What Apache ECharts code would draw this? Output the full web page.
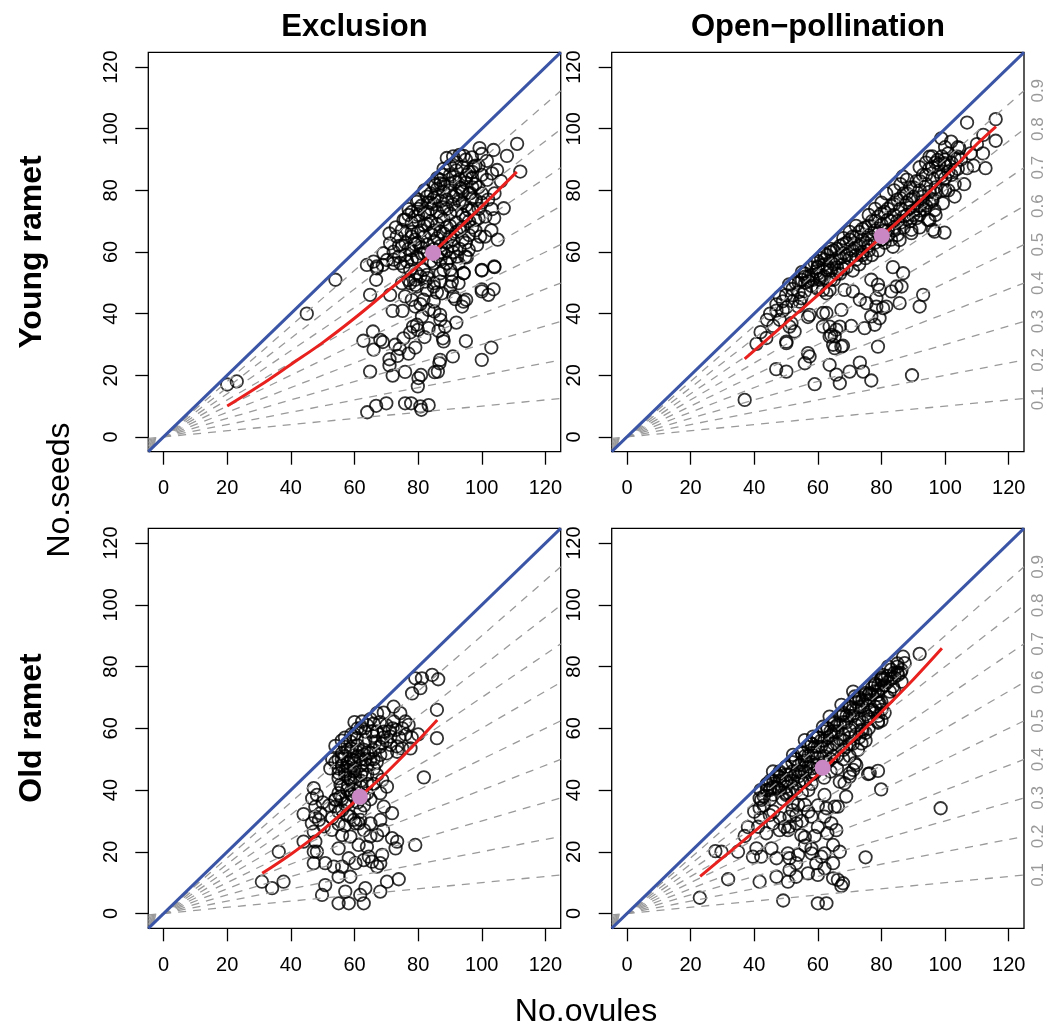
<!DOCTYPE html>
<html><head><meta charset="utf-8">
<script src="https://cdn.jsdelivr.net/npm/echarts@6/dist/echarts.min.js"></script>
<style>html,body{margin:0;padding:0;background:#fff}#c{width:1057px;height:1030px}</style>
</head><body><div id="c"></div>
<script>
const ticks = [0, 20, 40, 60, 80, 100, 120];
const ratios = [0.1, 0.2, 0.3, 0.4, 0.5, 0.6, 0.7, 0.8, 0.9];
const axisMin = -4.8, axisMax = 124.8;
const colTitles = ['Exclusion', 'Open\u2212pollination'];
const rowTitles = ['Young ramet', 'Old ramet'];
const xTitle = 'No.ovules';
const yTitle = 'No.seeds';

const exclYoung = [
[20,17],[23,18],[45,40],[54,51],
[64,8],[66.8,10.1],[70,10.9],[75.9,10.9],[77.8,10.9],[80.7,9.9],[81,8.8],[83.3,10.3],
[64.9,21.2],[72,19.9],[75.9,21.1],[80.1,19.1],[80.9,20.1],[79.9,16.4],[85.2,21],[86.2,21.2],
[71,23.2],[71,25.2],[73.5,26.3],[77,27],[74.2,28.6],[72.8,29.9],[79.1,29],[86.9,25],[86.7,23.9],[90.9,26.1],[100,25],[103,29],[95,31.1],
[62.8,31.2],[65.8,34.2],[68.1,31.5],[68.9,30.8],[66,28.3],[75.4,32],[77.5,33.9],[79.9,34.7],[82,32.4],[83.3,35.3],[86.4,34.4],[87.8,32],[88,31],[88.5,35.8],[87,38],[92,37.1],[79.6,36.4],[78.4,35.8],
[81.2,39.1],[83.3,41.2],[85.1,40.7],[86.9,39.6],[72,40.9],[75.1,40.9],[79.1,42.3],[80.7,43.1],[78,44.5],[81.7,44.5],[75.9,45.6],[84.9,43.9],[85.9,46.9],[87.5,46.6],[90.1,48.8],[91.1,45.6],[91.7,44.7],[94.3,43.9],[93.8,42.3],[95.1,44.5],[100,47.2],[102.1,46.1],
[64.9,46.1],[66.8,51],[71.2,46.1],[74.9,49.9],[77.5,49.9],[79.6,48.8],[82.8,47.7],[80.7,52.1],[83.1,51.5],[84.9,49.9],[87,53.1],[90.1,54.2],[94.3,53.1],[100,54],[104,55.1],[90.6,50.4],[92.7,49.9],[63.9,55.8],[67,55.3],[68.9,55.8],
[69.1,59.6],[72.3,57.5],[74.4,56.4],[76.5,56.9],[79.6,58.5],[84.9,56.4],[87,57.5],[89,56.4],[92.2,58.5],[95.3,58.3],[77.5,54.2],[81.7,54.2],[82.8,52.6],[79.1,51],[88,54.2],
[111.1,95.1],[112.1,86.1],[107.9,91.2],[103.7,93.1],[99.3,93.7],[100,91.8],[94.3,91.2],[96.9,90.7],[101.6,89.6],[104.8,86.6],[101.6,83.4],[99,81],[103.2,85.5],[95.3,85],[97.4,87.7],[91.7,82.8],[90.1,82.3],[87,82.3],[85.4,81.7],[93.8,80.7],[96.4,79.1],[98,76.9],[106.9,74.2],[103.2,73.9],[103.9,71],[101.1,71.5],[98,70.4],[99.5,65],[98.5,62.3],[95.9,60.7],[94.8,58.5],[92.7,56.3],[100,54.2],[103.9,55.3],[100,47.9],[103.7,47.9],[94.3,53.1],[90.6,52.6],
[77,73.9],[79.6,76.3],[82.8,78],[84.9,82.3],[87,83.4],[75.4,70.4],[74.9,67.2],[73.3,65],[71.2,62.8],[72.3,60.1],[70.2,57.4],[66,56.9],[67,54.7],[72.3,56.3],[75.4,55.3],[79.6,53.1],[77,50.9],[82.2,50.4],[84.9,48.8],[87,50.4],[79.1,49.3],
[88,87],[90,88],[92,86.5],[94,87.5],[96,86],[98,88],[91,91],[93,91.5],[95,90],[89,90.5],
[86,84],[88,85],[91,84.5],[93,83.5],[95,82.5],[97,84],[100,85],
[82,80],[84,79],[86,80.5],[88,79.5],[90,80],[92,78.5],[94,79.5],[97,81],[100,79],
[80,77],[83,76],[85,77.5],[87,76.5],[89,77],[91,75.5],[93,76.5],[95,75],[97,77.5],[100,76],
[78,73],[80,74],[82,72.5],[84,74],[86,73],[88,74.5],[90,72.5],[92,73.5],[94,72],[96,73.5],[99,74],
[76,70.5],[78,69.5],[80,70],[82,68.5],[84,70],[86,69],[88,70.5],[90,68.5],[92,69.5],[94,68],[96,70],[98,67],
[76,66],[78,65],[80,66.5],[82,65],[84,66],[86,64.5],[88,66],[90,65],[92,66.5],[94,64],[96,65.5],
[75,62],[77,61],[79,62.5],[81,61.5],[83,62.5],[85,61],[87,62],[89,60.5],[91,62],[93,61],
[74,58.5],[76,59],[78,57.5],[80,58],[82,59.5],[84,57],[86,58.5],[88,59.5],[90,58],
[73,68],[71,66],[74,62],[76,63],[80,63],[102,77],[104,79],[106,83],[103,67],[101,65],[105,64],
[77,72],[79,71.5],[81,75],[83,73],[85,75.5],[87,71.5],[89,74],[91,78],[93,81],[95,84],[97,86],[99,88],[81,67],[83,69],[85,67],[87,66.5],[89,68],[91,64],[93,67],[95,71],[97,74],
[79,64],[81,59.5],[83,60],[85,63.5],[87,60],[89,63],[91,60],[78,60.5],[88,82],[90,85],[92,89],[86,78],[84,76],[80,72],[78,66.5],[94,76],[96,79],[98,82],[99,71],[97,68],[95,63]
];

const openYoung = [
[37,12],[40.7,30.2],[43.8,32.1],[48,38],[50.1,30.9],[50.1,30.4],[52.7,34.2],[51.1,35.8],[51.7,36.9],[54.3,43.9],[54.8,45],[55.9,47.2],[53.8,42.3],[56.9,38.9],[57.4,39.6],
[46.9,22],[50.1,21.2],[56.9,27.2],[57.4,26.1],[55.9,23.9],[59,17.1],[63.7,23.4],[65.8,20.2],[66.9,17.4],[70,21.2],[73.2,24.1],[74.2,21.2],[76.8,18.3],
[64.8,29.9],[65.3,28.8],[67.4,29.3],[67.9,29.6],[63.7,32.6],[64.2,33.1],[65.3,32.6],[63.7,35.8],[65.8,34.8],[66.9,35.8],[61.6,35.8],[61.6,40.2],[62.7,40.2],[67.4,41.2],[70.5,36],
[74.7,35.3],[77.9,36.4],[78.9,29.3],[76.8,39.1],[79.4,38.5],[80.5,41.8],[81.5,42.3],[78.4,42.3],[73.2,44.5],[75.3,43.4],[78.4,45],[79.4,47.7],[78.9,49.4],[83.1,47.2],[85.7,43.4],[84.7,48.8],[86.3,48.8],[92,42.3],[93.1,46.1],[83.6,55.1],[86.8,53.1],
[89.4,66.1],[96.2,67.2],[94.6,70.4],[93.6,73.7],[92,72.1],[76.8,51],[68.4,47.7],[71,47.2],[62.7,46.6],[63.7,47.7],[61.6,47.7],[58.5,51],[60.6,51],[59.5,53.7],[62.7,54.2],[60,55.3],[89.6,20],
[106.9,102],[115.9,103.1],[115.9,96.1],[111.9,92],[112.7,87.2],[106.9,87.2],[104,94],[98.8,96.9],[101.9,95.8],[104.5,93.7],[104,90.9],[99.8,88.8],[95.1,90.9],[97.7,89.9],[98.8,84.5],[99.3,75.8],[96.7,73.6],[95.1,70.4],[96.7,66.6],[99.8,66.3],[89.4,67.2],[85.7,63.9],[83.6,61.7],[88.8,76.9],[86.7,84.5],[81.5,79],
[50,46],[52,48],[53,50],[51,49.5],[54,47],[55,51],[56,50],[55,53.5],
[57,52],[58,55],[59,56.5],[60,53],[61,58],[62,56],[58,49],[60,48.5],[62,52],
[63,59],[64,57],[65,60.5],[66,58],[67,62],[68,59.5],[64,54],[66,55],[68,56],[65,51],[67,53],
[69,63],[70,61],[71,65],[72,62.5],[73,66.5],[74,64],[70,58],[72,59],[74,60],[69,55],[71,54],[73,56],
[75,68],[76,65.5],[77,70],[78,67],[79,71.5],[80,69],[76,62],[78,63],[80,64],[75,58],[77,59],[79,60.5],
[81,73],[82,70.5],[83,75],[84,72],[85,77],[86,74],[82,67],[84,68],[86,69.5],[81,63],[83,64],[85,65.5],
[87,79],[88,76],[89,81],[90,78],[91,83],[92,80],[88,72],[90,73.5],[92,75],[87,68],[89,70],[91,71],
[93,85],[94,82],[95,87],[96,84],[97,89],[98,86],[93,78],[95,79.5],[97,81],[94,75],[96,76.5],
[99,91],[100,88],[101,92],[102,89],[103,90.5],[100,84],[102,85],[104,87],[101,80],[103,82],
[45,40],[47,43],[48,45.5],[44,38],[42,34],[46,36],[49,41],[47,41],[49,44],[52,44],[50,42],
[106,82],[109,88],[103,78],[97,72],[92,68],[108,92],[110,95],[112,98],
[52,46],[54,50],[56,52],[58,52.5],[60,55],[62,57.5],[64,60],[66,61],[68,62.5],[70,64],[72,65],[74,67.5],[76,68.5],[78,70],[80,72.5],[82,74],[84,75.5],[86,77.5],[88,79],[90,81],[92,83],[94,85],[96,87.5],[98,88.5],[100,90],
[57,50.5],[61,52.5],[65,56],[69,59],[73,62],[77,64],[81,67],[85,70],[89,74.5],[93,76.5],[97,79],[63,55],[67,58],[71,60.5],[75,63],[79,66],[83,70],[87,71.5],[91,74],[95,76],[99,80],[101,86],[103,86.5],[105,90],
[56,53],[60,57],[64,61],[68,64.5],[72,68.5],[76,72],[80,76],[84,80],[88,83.5],[92,87.5],[96,91],[100,94],[62,59.5],[70,66.5],[78,74],[86,82],[94,89],
[60,48],[64,51],[68,54.5],[72,57.5],[76,60.5],[80,64],[84,67],[88,70.5],[92,73.5],[96,77],[100,80],[66,53],[74,59],[82,65.5],[90,72]
];

const exclOld = [
[79.1,76.2],[81.2,76.2],[84.4,77.3],[86.3,75.9],[80.7,73],[78.1,71.3],[85.9,66],[85.9,56.8],[81.8,44.1],[72.3,67],[69.2,65.1],[67.1,64.9],[74.4,64.9],[72.3,62.2],[76,62.2],[77,61.1],
[62.4,62.2],[63.4,58.9],[65.5,58.9],[69.2,58.9],[71.3,57.3],[58.7,55.7],[60.8,56.8],[63.4,56.2],[66.6,55.7],[68.7,55.1],[71.3,54.6],[73.4,54.1],[75,53.5],[77.6,53.5],[54,54.3],
[56.1,51.9],[58.7,52.4],[60.8,52.4],[63.4,50],[68.1,51.4],[70.2,51.9],[73.4,52.4],[52.4,47],[55,47],[57.7,47.6],[59.8,46],[62.4,46],[66.1,47],[67.1,44.9],[68.7,43.3],[70.2,41.1],[68.1,39],
[55,43.8],[57.1,44.9],[58.7,43.3],[55.6,41.7],[57.7,40],[55,39],[47.2,40.6],[48.2,38.4],[47.7,34.6],[49.3,32.5],[44,32.2],[46.6,29.2],[47.2,26.5],[50.3,28.2],[47.7,23.3],[44,23.3],[47.2,20],[48.2,20],[52.9,27.1],[36.2,20],
[54,34.6],[56.1,33.5],[58.7,31.4],[59.8,30.3],[61.8,33],[61.3,29.2],[65,29.2],[68.1,30.3],[71.8,32.5],[69.2,34.6],[56.1,25.4],[58.7,24.9],[61.3,22.2],[63.9,21.6],[67.1,25.4],[71.8,24.4],[73.4,23.3],[72.9,21.1],[79.1,22.2],[55,21.1],
[47.2,16.3],[50.8,16.3],[53.5,15.2],[56.1,15.2],[58.2,17.9],[60.3,16.3],[62.9,17.3],[64.5,18.4],[65.5,16.8],[67.1,15.2],[68.7,19],[68.1,16.3],[55,11.9],[58.7,11.9],[70.2,10.3],[73.9,11.1],
[30.9,10.3],[34.1,8.2],[37.7,10.3],[50.8,9.2],[49.8,6],[57.1,7.1],[63.4,8.2],[61.8,6],[68.1,7.1],[55,3.3],[58.2,3.3],[62.9,3.3],
[56,50],[58,49],[60,49.5],[62,48],[64,52],[66,53],[57,54],[59,53.5],[61,54.5],[63,53],[65,50],[67,49],[55,45.5],[57,46],[60,44],[62,43],[64,45],[66,42],[58,41.5],[60,40],[62,41],[64,39],
[56,37],[58,36],[60,38],[65,37],[63,35],[57,35.5],[54,37],[53,50],[54,49],[56,56],[59,58],[61,60],[64,61],[66,61.5],[68,62],[70,61],[70,56],[72,60],[74,57],[76,58],[78,57],[80,58],[66,57.5],[68,54],
[53,31],[55,29],[57,28.5],[63,27],[65,25],[69,27],[52,35],[50,36],[46.7,37.3],[47.7,31.4],[48.8,30.3],[54,36.8],[55.6,37.9],[55,33],[57.7,31.9],[60.3,29.2],[61.8,30.3],
[57,51],[59,50],[61,51],[63,51.5],[65,52],[56,48],[58,46.5],[60,47],[62,50],[64,48],[66,50],[58,44],[60,42.5],[62,45],[64,42],[56,41],[59,38.5],[61,36],[63,38],[60,58],[62,60],[65,63],[67,59],[69,57],[71,59],[73,59.5],[75,60],[57,57],[58,53],[55,50],[60,62]
];

const openOld = [
[22.9,5.1],[31.8,11.1],[29.7,20],[27.8,20.2],[34.9,20],[37,25.1],[41.7,10.3],[40.7,21.1],[39.6,18.4],[42.2,18.4],[45.4,21.1],[47,17.9],[41.2,28.1],[43.8,26],[45.9,29.2],[44.9,31.9],[48,27],[50.6,27],[49.6,28.1],
[41.7,34.1],[42.2,36.8],[41.7,37.3],[44.9,40],[43.8,41.6],[47.5,40.6],[45.9,46],[48,44.3],[50.1,38.4],[51.1,31.4],[53.2,31.9],[53.2,29.2],[51.1,28.1],[54.8,25.4],[55.9,24.7],[59,25.1],
[50.6,19.5],[51.1,17.9],[53.8,19],[53.2,16.3],[51.1,14.1],[53.2,11.9],[50.6,10.3],[56.9,13],[58,19.5],[59.5,16.3],[61.1,18.4],[62.1,19.5],[62.1,14.6],[64.8,16.3],[60,12.5],[66.3,10.9],[67.4,8.9],[67.9,9.8],[64.8,11.4],[47,11.9],[49.1,4.2],[60,3.3],[62.7,3.3],[64.8,22.2],[66.9,20],[75,18.2],
[53.8,35.2],[55.9,35.2],[58,31.4],[62.1,31.4],[62.7,34.1],[64.2,29.2],[65.8,27],[65.3,34.6],[66.3,34.6],[68.9,37.9],[62.1,38.4],[75.8,45.2],[78.9,46.2],[79.9,40.2],[72.1,48.1],[73.7,55.1],[78.9,61.8],[79.4,68.1],[66.9,42.7],[68.4,42.2],[70,44.3],[71.1,46.5],[98.6,34.1],
[92,84.1],[86.8,83.2],[87.3,81.1],[86.3,78.9],[85.2,77.3],[86.3,75.1],[83.6,73.5],[82.6,71.9],[82.1,80],[80.5,77.3],[80,75.7],[78.9,70.8],[78.9,68.6],[78.9,62.2],[76.3,71.3],[76.3,65.9],[75.8,63.8],[73.7,59.5],[72.6,53],[71.6,48.7],[70,45.4],[76.3,45.4],[71.1,71.9],[71.6,70.3],[67.4,67.6],[63.7,63.8],[61.6,60.5],[58.5,57.3],[55.9,56.2],[52.2,51.4],
[42,40],[43,38],[44,42],[45,40.5],[46,43],[47,41],[43,35],[45,37],[46,38.5],[47,44.5],
[48,46],[49,43],[50,47.5],[51,45],[52,49],[48,40],[50,41],[52,43],[49,37],[51,39],[52,36],
[53,50],[54,48],[55,52],[56,49.5],[57,54],[53,45],[55,46],[57,47.5],[54,42],[56,43],[55,39],[57,40],[53,40.5],
[58,55],[59,52],[60,57],[61,54],[62,59],[58,49],[60,50.5],[62,51],[59,45.5],[61,47],[62,44],[58,42],
[63,60],[64,57.5],[65,62],[66,59],[67,64],[63,54],[65,55],[67,56.5],[64,50],[66,51],[64,46],[66,47],
[68,65],[69,62],[70,67],[71,64],[72,68.5],[68,58],[70,59.5],[72,61],[69,54],[71,55],[68,50],[70,51],
[73,70],[74,67],[75,71.5],[76,69],[77,73],[73,63],[75,64.5],[77,66],[74,59],[76,60],[75,56],
[78,74.5],[79,72],[80,76.5],[81,74],[82,77],[78,67],[80,68.5],[82,70],[79,64],[81,65],
[83,79],[84,76.5],[85,80],[84,72.5],[86,78],
[38,28],[40,33],[42,31],[46,33],[48,31],[52,33.5],[55,30],[57,33],[60,35],[60,28],[63,26],[56,22],[58,21],
[44,40],[46,41],[48,43],[50,45],[52,46],[54,46],[55,49],[56,51],[57,51],[58,52],[59,54],[60,54],[61,56],[62,56],[63,57],[64,59],[65,59],[66,61],[67,61],[68,62],[69,64],[70,64],[71,66],[72,66],[73,67],[74,69],[75,69],[76,71],[77,71],[78,72],[79,74],[80,73],[81,76],[82,75],[83,76],[84,78],[85,78],
[50,43],[52,40],[54,44.5],[56,46],[58,47],[60,48],[62,49],[64,53],[66,55],[68,56],[70,57],[72,58],[74,62],[76,63],[78,65],[80,66],
[45,43],[50,47.5],[55,52],[60,57],[65,61.5],[70,66.5],[75,71],[80,76],[85,81],[48,45.5],[53,50],[58,55],[63,60],[68,64.5],[73,69.5],[78,74],
[50,39],[55,43],[60,47],[65,51],[70,55],[75,58.5],[80,62.5],[58,45],[63,49],[68,53],[73,57]
];

const fitExclYoung = [[20,10],[30,16.5],[40,23.5],[50,30.6],[60,38.5],[70,47],[80,55.5],[90,65],[100,74.8],[111,86]];
const fitOpenYoung = [[37,25.3],[50,37],[60,46],[70,55.5],[80,65],[90,74.5],[100,84.5],[110,95],[116,100.7]];
const fitExclOld = [[31,13],[40,19.2],[48,25.3],[55,31.5],[62,38.1],[70,45.6],[78,53.9],[86,62.7]];
const fitOpenOld = [[23,12],[30,18],[40,26.5],[50,35.5],[61.6,46.5],[70,55],[80,65.3],[90,75.8],[99,85.9]];

const meanExclYoung = [84.7, 59.7];
const meanOpenYoung = [80.1, 65.2];
const meanExclOld = [61.7, 37.8];
const meanOpenOld = [61.5, 47.2];

const FONT = "'Liberation Sans', Arial, Helvetica, sans-serif";
const panels = [
  {pts: exclYoung, fit: fitExclYoung, mean: meanExclYoung, left: 148.3, top: 52.3, w: 412.4, h: 399.4, right: false},
  {pts: openYoung, fit: fitOpenYoung, mean: meanOpenYoung, left: 611.7, top: 52.3, w: 412.3, h: 399.4, right: true},
  {pts: exclOld, fit: fitExclOld, mean: meanExclOld, left: 148.3, top: 528.3, w: 412.4, h: 400, right: false},
  {pts: openOld, fit: fitOpenOld, mean: meanOpenOld, left: 611.7, top: 528.3, w: 412.3, h: 400, right: true}
];

const grids = [], xAxes = [], yAxes = [], series = [];
panels.forEach((p, i) => {
  grids.push({left: p.left, top: p.top, width: p.w, height: p.h, show: true, borderColor: '#000', borderWidth: 1.3, backgroundColor: 'transparent'});
  xAxes.push({gridIndex: i, type: 'value', min: axisMin, max: axisMax,
    splitLine: {show: false}, axisLine: {show: false, onZero: false},
    axisTick: {show: true, customValues: ticks, length: 13, lineStyle: {color: '#000', width: 1.3}},
    axisLabel: {customValues: ticks, fontSize: 20, color: '#000', margin: 27, fontFamily: FONT}});
  yAxes.push({gridIndex: i, type: 'value', min: axisMin, max: axisMax,
    splitLine: {show: false}, axisLine: {show: false, onZero: false},
    axisTick: {show: true, customValues: ticks, length: 13, lineStyle: {color: '#000', width: 1.3}},
    axisLabel: {customValues: ticks, fontSize: 20, color: '#000', margin: 27, rotate: 90, fontFamily: FONT}});
});
panels.forEach((p, i) => {
  if (p.right) {
    yAxes.push({gridIndex: i, type: 'value', position: 'right', min: axisMin, max: axisMax,
      splitLine: {show: false}, axisLine: {show: false, onZero: false}, axisTick: {show: false},
      axisLabel: {customValues: ratios.map(r => r * axisMax), formatter: v => (v / axisMax).toFixed(1),
        fontSize: 17, color: '#999', margin: 6, rotate: 90, fontFamily: FONT}});
  }
});
panels.forEach((p, i) => {
  series.push({type: 'scatter', xAxisIndex: i, yAxisIndex: i, data: p.pts, symbol: 'circle', symbolSize: 12.5, z: 2,
    silent: true, itemStyle: {color: 'rgba(0,0,0,0)', borderColor: '#000', borderWidth: 1.8}});
  series.push({type: 'lines', coordinateSystem: 'cartesian2d', xAxisIndex: i, yAxisIndex: i, silent: true, z: 3,
    data: ratios.map(r => ({coords: [[axisMin, r * axisMin], [axisMax, r * axisMax]]})),
    lineStyle: {color: '#9a9a9a', width: 1.3, type: [8, 7], opacity: 1}});
  series.push({type: 'lines', coordinateSystem: 'cartesian2d', xAxisIndex: i, yAxisIndex: i, silent: true, z: 4,
    data: [{coords: [[axisMin, axisMin], [axisMax, axisMax]]}],
    lineStyle: {color: '#3b55a6', width: 3, opacity: 1}});
  series.push({type: 'line', xAxisIndex: i, yAxisIndex: i, data: p.fit, smooth: 0.4, symbol: 'none', silent: true, z: 5,
    lineStyle: {color: '#e8211e', width: 3}});
  series.push({type: 'scatter', xAxisIndex: i, yAxisIndex: i, data: [p.mean], symbol: 'circle', symbolSize: 16, silent: true, z: 6,
    itemStyle: {color: '#c987c3', opacity: 1}});
});

const graphic = [
  {type: 'text', x: 354.5, y: 27, style: {text: colTitles[0], font: 'bold 31px ' + FONT, fill: '#000', align: 'center', verticalAlign: 'middle'}},
  {type: 'text', x: 818, y: 27, style: {text: colTitles[1], font: 'bold 31px ' + FONT, fill: '#000', align: 'center', verticalAlign: 'middle'}},
  {type: 'text', x: 32, y: 252, rotation: Math.PI / 2, style: {text: rowTitles[0], font: 'bold 32px ' + FONT, fill: '#000', align: 'center', verticalAlign: 'middle'}},
  {type: 'text', x: 32, y: 728, rotation: Math.PI / 2, style: {text: rowTitles[1], font: 'bold 32px ' + FONT, fill: '#000', align: 'center', verticalAlign: 'middle'}},
  {type: 'text', x: 60, y: 490, rotation: Math.PI / 2, style: {text: yTitle, font: '32px ' + FONT, fill: '#000', align: 'center', verticalAlign: 'middle'}},
  {type: 'text', x: 586, y: 1012, style: {text: xTitle, font: '32px ' + FONT, fill: '#000', align: 'center', verticalAlign: 'middle'}}
];

const chart = echarts.init(document.getElementById('c'), null, {renderer: 'canvas'});
chart.setOption({animation: false, backgroundColor: '#fff', grid: grids, xAxis: xAxes, yAxis: yAxes, series: series, graphic: graphic});
</script></body></html>
